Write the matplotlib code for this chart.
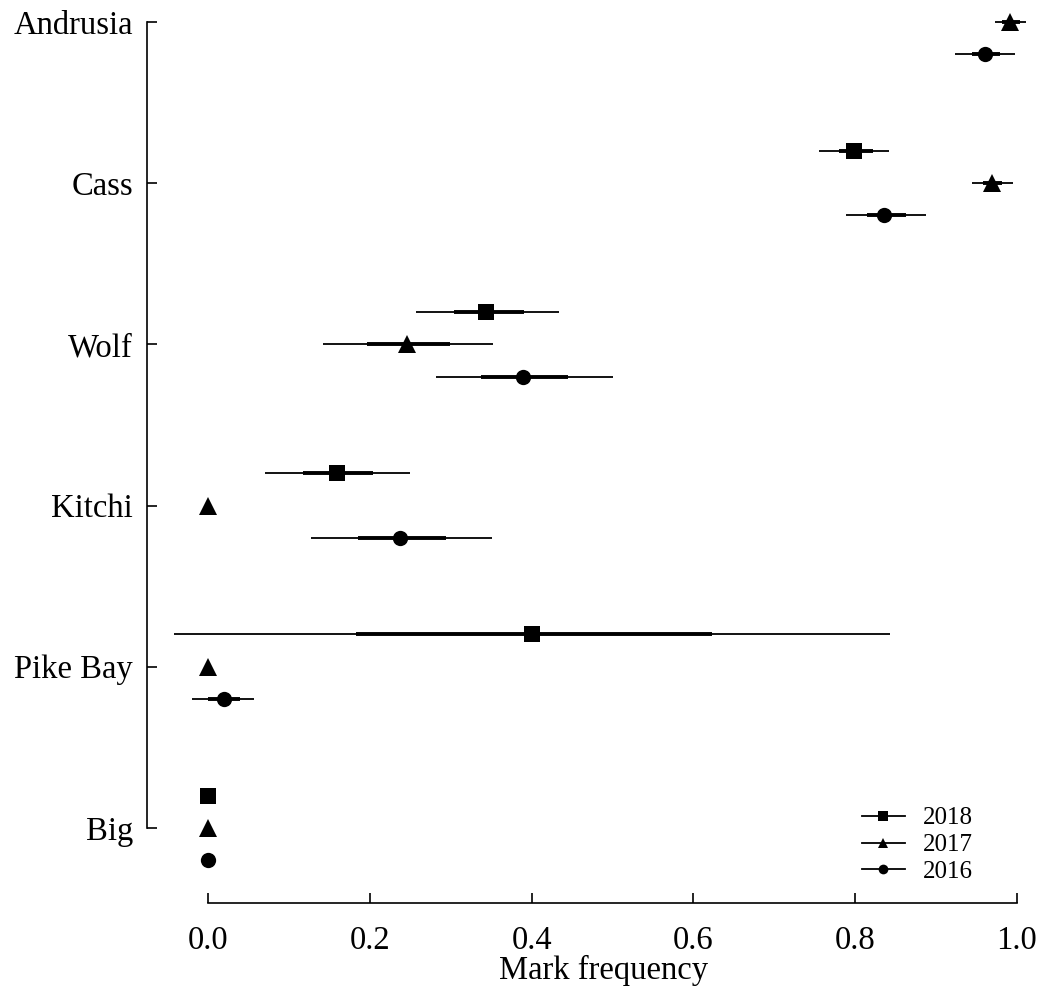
import matplotlib.pyplot as plt
from matplotlib.lines import Line2D
import numpy as np

plt.rcParams['font.family'] = ['Liberation Serif', 'DejaVu Serif']

nan = np.nan
lakes = ["Andrusia", "Cass", "Wolf", "Kitchi", "Pike Bay", "Big"]
years = ["2018", "2017", "2016"]

# point estimate, outer (thin) and inner (thick) intervals, per year
est_2018 = [nan, 0.799, 0.344, 0.159, 0.400, 0.0]
lo_outer_2018 = [nan, 0.755, 0.257, 0.070, -0.042, nan]
hi_outer_2018 = [nan, 0.842, 0.434, 0.250, 0.843, nan]
lo_inner_2018 = [nan, 0.780, 0.304, 0.117, 0.183, nan]
hi_inner_2018 = [nan, 0.822, 0.391, 0.204, 0.623, nan]

est_2017 = [0.991, 0.969, 0.246, 0.0, 0.0, 0.0]
lo_outer_2017 = [0.973, 0.944, 0.142, nan, nan, nan]
hi_outer_2017 = [1.011, 0.995, 0.352, nan, nan, nan]
lo_inner_2017 = [0.981, 0.958, 0.196, nan, nan, nan]
hi_inner_2017 = [1.004, 0.981, 0.299, nan, nan, nan]

est_2016 = [0.960, 0.836, 0.389, 0.237, 0.020, 0.0]
lo_outer_2016 = [0.923, 0.789, 0.282, 0.127, -0.020, nan]
hi_outer_2016 = [0.998, 0.888, 0.501, 0.351, 0.057, nan]
lo_inner_2016 = [0.944, 0.814, 0.337, 0.185, 0.0, nan]
hi_inner_2016 = [0.979, 0.863, 0.445, 0.294, 0.040, nan]

series = [
    ("2018", 's', 11.5, 0.2, est_2018, lo_outer_2018, hi_outer_2018, lo_inner_2018, hi_inner_2018),
    ("2017", '^', 12.5, 0.0, est_2017, lo_outer_2017, hi_outer_2017, lo_inner_2017, hi_inner_2017),
    ("2016", 'o', 11, -0.2, est_2016, lo_outer_2016, hi_outer_2016, lo_inner_2016, hi_inner_2016),
]

fig = plt.figure(figsize=(10.45, 9.94), dpi=100)
W, H = 1045.0, 994.0
ax = fig.add_axes([147 / W, 91 / H, (W - 147) / W, (H - 91) / H])

ypos = np.arange(len(lakes))[::-1].astype(float)

for name, mk, ms, off, est, lo1, hi1, lo2, hi2 in series:
    y = ypos + off
    est = np.array(est); lo1 = np.array(lo1); hi1 = np.array(hi1)
    lo2 = np.array(lo2); hi2 = np.array(hi2)
    ok = ~np.isnan(lo1)
    ax.hlines(y[ok], lo1[ok], hi1[ok], color='black', lw=1.3, zorder=2)
    ok = ~np.isnan(lo2)
    ax.hlines(y[ok], lo2[ok], hi2[ok], color='black', lw=2.8, zorder=2)
    ok = ~np.isnan(est)
    ax.plot(est[ok], y[ok], linestyle='none', marker=mk, markersize=ms,
            color='black', markeredgewidth=0, zorder=3)

ax.set_xlim(-0.0754, (W - 208) / 809.0)
ax.set_ylim(-0.466, 5 + 22 / 161.0)

for s in ['top', 'right']:
    ax.spines[s].set_visible(False)
ax.spines['left'].set_bounds(0, 5)
ax.spines['bottom'].set_bounds(0, 1)
for s in ['left', 'bottom']:
    ax.spines[s].set_linewidth(1.2)

ax.set_xticks([0, 0.2, 0.4, 0.6, 0.8, 1.0])
ax.set_xticklabels(["0.0", "0.2", "0.4", "0.6", "0.8", "1.0"])
ax.set_yticks(ypos)
ax.set_yticklabels(lakes)
ax.tick_params(axis='both', direction='in', length=7, width=1.2, labelsize=23.5)
ax.tick_params(axis='x', pad=16)
ax.tick_params(axis='y', pad=10)

ax.set_xlabel("Mark frequency", fontsize=23.5)
ax.xaxis.set_label_coords((604 - 147) / (W - 147), -0.057)

handles = [Line2D([], [], color='black', lw=1.3, marker=m, markersize=7, markeredgewidth=0)
           for m in ['s', '^', 'o']]
fig.legend(handles, years, loc='upper left', bbox_to_anchor=(862 / W, 1 - 807 / H),
           frameon=False, fontsize=18, handlelength=1.7, handletextpad=0.75,
           labelspacing=0.17, borderpad=0, borderaxespad=0)

fig.savefig("out.png", dpi=100)
